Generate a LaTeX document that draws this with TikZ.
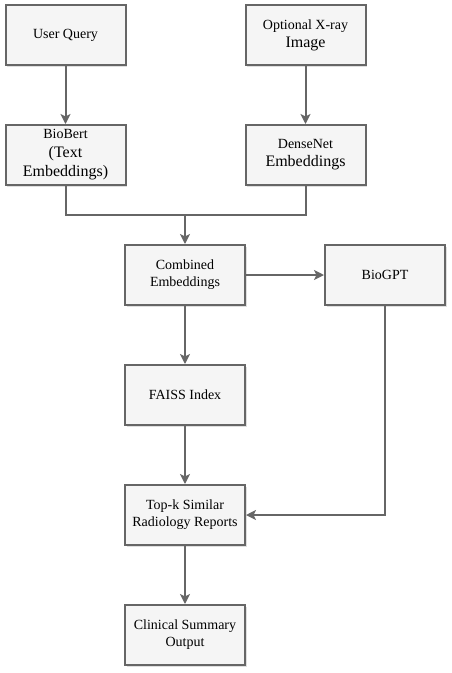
\documentclass[tikz,border=0pt]{standalone}
\usepackage{fontspec}
\setmainfont{Liberation Serif}
\usetikzlibrary{arrows.meta, positioning, shadows}
\definecolor{boxfill}{HTML}{F5F5F5}
\definecolor{boxline}{HTML}{666666}
\newcommand{\bigline}[1]{{\fontsize{16}{19}\selectfont #1}}

\begin{document}
\begin{tikzpicture}[x=1pt, y=-1pt,
    block/.style={draw=boxline, fill=boxfill, line width=2pt,
        minimum width=120pt, minimum height=60pt, inner sep=2pt,
        align=center, font=\fontsize{14}{17}\selectfont,
        drop shadow={shadow xshift=1.5pt, shadow yshift=-1.5pt, opacity=0.25}},
    flow/.style={draw=boxline, line width=2pt,
        -{Stealth[length=10pt, width=10pt, inset=2.5pt]}}]
    \useasboundingbox (0,0) rectangle (452,673);
    % Inputs
    \node[block] (query) at (65.5,35) {User Query};
    \node[block] (xray) at (305.5,35) {Optional X-ray\\[1pt]\bigline{Image}};
    % Encoders
    \node[block] (biobert) at (65.5,155) {BioBert\\[2pt]\bigline{(Text}\\[2pt]\bigline{Embeddings)}};
    \node[block] (densenet) at (305.5,155) {DenseNet\\[1pt]\bigline{Embeddings}};
    % Fusion and retrieval
    \node[block] (combined) at (185,275) {Combined\\Embeddings};
    \node[block] (biogpt) at (385,275) {BioGPT};
    \node[block] (faiss) at (185,395) {FAISS Index};
    \node[block] (topk) at (185,515) {Top-k Similar\\Radiology Reports};
    \node[block] (summary) at (185,635) {Clinical Summary\\Output};
    \coordinate (join) at (185,215);
    % Connectors
    \draw[flow] (query) -- (biobert);
    \draw[flow] (xray) -- (densenet);
    \draw[draw=boxline, line width=2pt] (biobert.south) |- (join) -| (densenet.south);
    \draw[flow] (join) -- (combined);
    \draw[flow] (combined) -- (biogpt);
    \draw[flow] (combined) -- (faiss);
    \draw[flow] (faiss) -- (topk);
    \draw[flow] (biogpt.south) |- (topk.east);
    \draw[flow] (topk) -- (summary);
\end{tikzpicture}
\end{document}
